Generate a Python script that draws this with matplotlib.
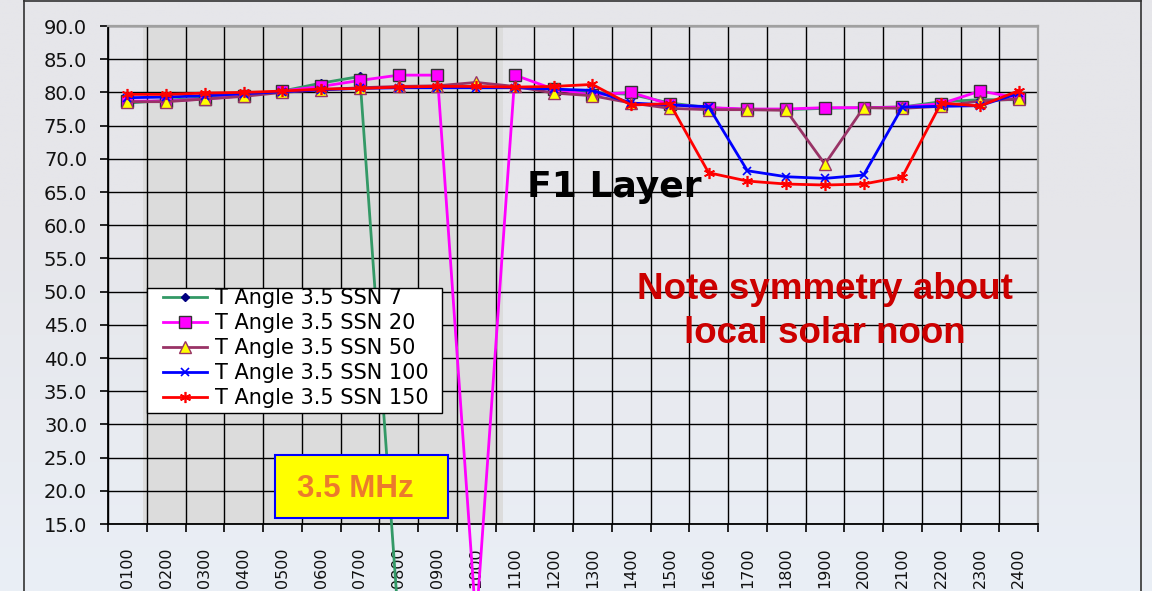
import numpy as np
import matplotlib
matplotlib.use("Agg")
import matplotlib.pyplot as plt
from matplotlib.patches import Rectangle
from matplotlib.lines import Line2D

nan = np.nan
hours = ['0100', '0200', '0300', '0400', '0500', '0600', '0700', '0800', '0900', '1000',
         '1100', '1200', '1300', '1400', '1500', '1600', '1700', '1800', '1900', '2000',
         '2100', '2200', '2300', '2400']

ssn7 = [78.4, 78.8, 79.2, 79.6, 80.2, 81.4, 82.4, 0.0, nan, nan, nan, 80.4,
        80.0, 79.7, 78.4, 77.7, 77.4, 77.4, 77.6, 77.7, 77.8, 78.6, 78.9, 78.9]
ssn20 = [78.7, 78.7, 79.0, 79.5, 80.2, 80.9, 81.8, 82.6, 82.6, 0.0, 82.6, 80.5,
         79.6, 80.0, 78.2, 77.7, 77.5, 77.5, 77.7, 77.7, 77.8, 78.3, 80.2, 79.2]
ssn50 = [78.6, 78.6, 79.0, 79.4, 80.0, 80.4, 80.7, 80.9, 81.0, 81.5, 80.9, 79.9,
         79.5, 78.4, 77.6, 77.4, 77.4, 77.3, 69.2, 77.7, 77.6, 77.9, 78.7, 79.0]
ssn100 = [79.2, 79.3, 79.5, 79.8, 80.1, 80.4, 80.6, 80.7, 80.7, 80.7, 80.7, 80.5,
          80.3, 78.4, 78.1, 77.85, 68.2, 67.3, 67.05, 67.55, 77.8, 77.9, 78.0, 79.85]
ssn150 = [79.7, 79.7, 79.9, 80.0, 80.2, 80.5, 80.6, 80.8, 80.9, 80.9, 80.8, 80.9,
          81.2, 78.1, 78.3, 67.9, 66.65, 66.2, 66.05, 66.2, 67.3, 78.4, 77.95, 80.25]

series_labels = ['T Angle 3.5 SSN 7', 'T Angle 3.5 SSN 20', 'T Angle 3.5 SSN 50',
                 'T Angle 3.5 SSN 100', 'T Angle 3.5 SSN 150']

W, H = 1152, 591
fig = plt.figure(figsize=(W / 100, H / 100), dpi=100)
fig.patch.set_facecolor('#e6e7eb')

def fx(px):
    return px / W

def fy(py):
    return 1 - py / H

# background gradient (slide backdrop)
bg = fig.add_axes([0, 0, 1, 1], zorder=-10)
grad = np.linspace(0, 1, 256)[:, None]
top = np.array([0xe6, 0xe6, 0xea]) / 255
bot = np.array([0xea, 0xef, 0xf6]) / 255
w = np.clip((grad - 0.35) / 0.65, 0, 1)
img = top[None, None, :] * (1 - w[..., None]) + bot[None, None, :] * w[..., None]
img = np.repeat(img, 4, axis=1)
bg.imshow(img, aspect='auto', extent=[0, 1, 0, 1])
bg.set_axis_off()

ax = fig.add_axes([fx(108), fy(524), fx(1038) - fx(108), fy(26) - fy(524)])
ax.set_facecolor('none')
x = np.arange(len(hours))
ax.set_xlim(-0.5, len(hours) - 0.5)
ax.set_ylim(15, 90)

# darker backdrop band
ax.axvspan((143 - 108) / 38.75 - 0.5, (503 - 108) / 38.75 - 0.5, color='#dcdcdc', zorder=0, lw=0)

ax.set_yticks(np.arange(15, 90.1, 5))
ax.set_yticklabels([f'{v:.1f}' for v in np.arange(15, 90.1, 5)])
ax.set_xticks(np.arange(-0.5, len(hours), 1))
ax.set_xticklabels([])
ax.set_xticks(x, minor=True)
ax.set_xticklabels(hours, minor=True, rotation=90)
ax.tick_params(axis='x', which='minor', length=0, pad=17, labelsize=11.5, labelcolor='#111111')
ax.tick_params(axis='x', which='major', length=6, width=1.2, color='black', direction='out')
ax.tick_params(axis='y', length=6, width=1.2, pad=9, labelsize=14, labelcolor='#111111')
ax.grid(which='major', color='black', lw=1.0, zorder=1)
ax.set_axisbelow(True)
for s in ['left', 'bottom']:
    ax.spines[s].set_color('black')
    ax.spines[s].set_linewidth(1.3)
for s in ['top', 'right']:
    ax.spines[s].set_color('#a0a0a0')
    ax.spines[s].set_linewidth(1.6)

lw = 2.0
ax.plot(x, ssn7, color='#339966', lw=lw, marker='D', ms=4, mfc='#000080', mec='#000080',
        label=series_labels[0], clip_on=False, zorder=3)
ax.plot(x, ssn20, color='#ff00ff', lw=lw, marker='s', ms=9, mfc='#ff00ff', mec='#333333', mew=1.0,
        label=series_labels[1], clip_on=False, zorder=4)
ax.plot(x, ssn50, color='#993366', lw=lw, marker='^', ms=9, mfc='#ffff00', mec='#993366', mew=1.0,
        label=series_labels[2], clip_on=False, zorder=5)
ax.plot(x, ssn100, color='#0000ff', lw=lw, marker='x', ms=6, mec='#0000ff', mew=1.2,
        label=series_labels[3], clip_on=False, zorder=6)
ax.plot(x, ssn150, color='#ff0000', lw=lw, marker=(6, 2, 0), ms=8, mec='#ff0000', mew=1.2,
        label=series_labels[4], clip_on=False, zorder=7)

# legend (frame drawn separately so its size matches the reference)
frame = Rectangle((fx(147), fy(413)), fx(442) - fx(147), fy(288) - fy(413),
                  transform=fig.transFigure, facecolor='white', edgecolor='black',
                  lw=1.0, zorder=8, clip_on=False)
ax.add_artist(frame)
leg = ax.legend(loc='upper left', bbox_to_anchor=(fx(163), fy(288)), bbox_transform=fig.transFigure,
                frameon=False, borderpad=0, borderaxespad=0, handlelength=2.1,
                handletextpad=0.4, labelspacing=0.24, prop={'family': 'DejaVu Sans', 'size': 15})
leg.set_zorder(9)

# annotations
fig.text(fx(527), fy(197), 'F1 Layer', fontsize=26, fontweight='bold', color='black',
         family='DejaVu Sans', ha='left', va='baseline')
fig.text(fx(825), fy(299), 'Note symmetry about', fontsize=26.5, fontweight='bold',
         color='#cc0000', family='Liberation Sans', ha='center', va='baseline')
fig.text(fx(825), fy(343), 'local solar noon', fontsize=26.5, fontweight='bold',
         color='#cc0000', family='Liberation Sans', ha='center', va='baseline')

box = Rectangle((fx(275), fy(518)), fx(448) - fx(275), fy(455) - fy(518),
                transform=fig.transFigure, facecolor='#ffff00', edgecolor='#0000ff',
                lw=1.5, zorder=8, clip_on=False)
ax.add_artist(box)
t = ax.text(fx(355), fy(497), '3.5 MHz', fontsize=22.5, fontweight='bold', color='#ec7a2c',
            family='Liberation Sans', ha='center', va='baseline', transform=fig.transFigure,
            zorder=9)

# slide frame lines
for px in (24, 1141):
    fig.add_artist(Line2D([fx(px), fx(px)], [0, 1], transform=fig.transFigure,
                          color='#333333', lw=1.2))
fig.add_artist(Line2D([fx(24), fx(1141)], [fy(1), fy(1)], transform=fig.transFigure,
                      color='#333333', lw=1.2))

fig.savefig('out.png', dpi=100, facecolor=fig.get_facecolor())
